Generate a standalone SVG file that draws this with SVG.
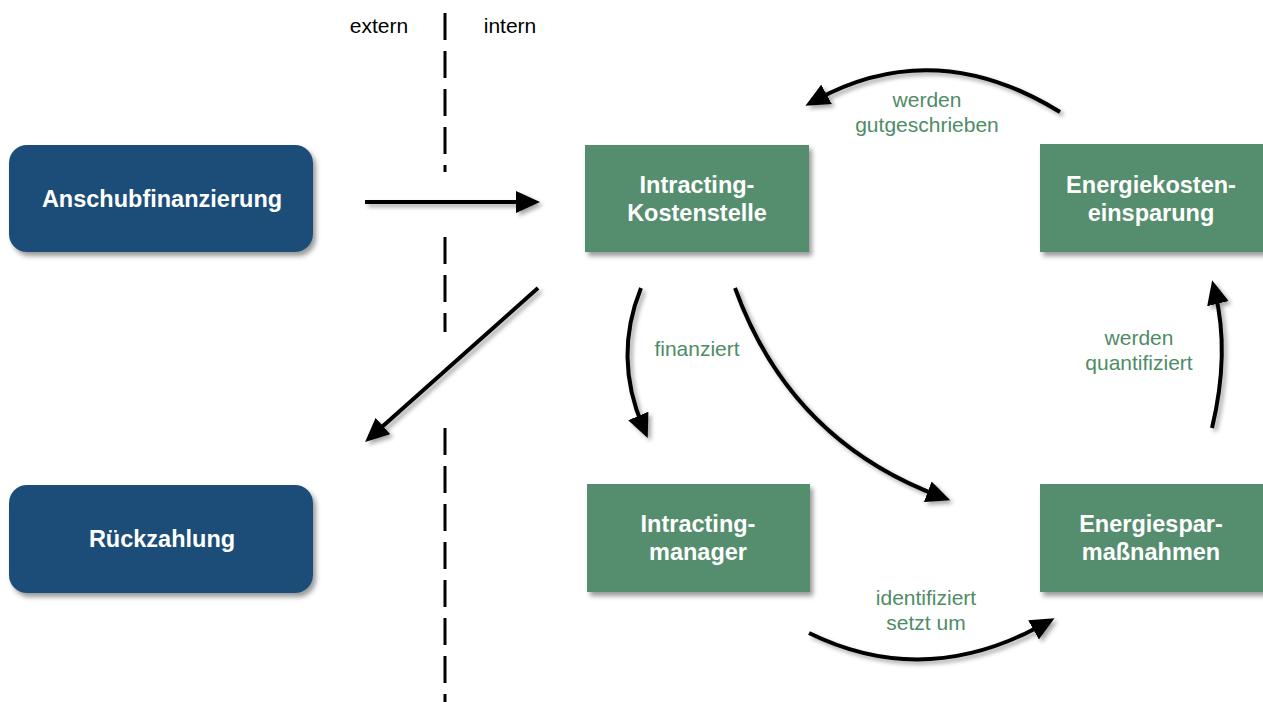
<svg xmlns="http://www.w3.org/2000/svg" width="1263" height="702" viewBox="0 0 1263 702">
<style>
.blue{fill:#1F4E79;}
.green{fill:#548E6E;}
.nt{font-family:"Liberation Sans",Arial,sans-serif;font-size:23.5px;font-weight:bold;fill:#FFFFFF;text-anchor:middle;}
.lbl{font-family:"Liberation Sans",Arial,sans-serif;font-size:21px;fill:#4E8C66;text-anchor:middle;}
.side{font-family:"Liberation Sans",Arial,sans-serif;font-size:21px;fill:#000000;text-anchor:middle;}
.conn{fill:none;stroke:#000000;stroke-width:4;marker-end:url(#ah);}
.divider{stroke:#000000;stroke-width:3;stroke-dasharray:27 11;fill:none;}
</style>
<defs>
<filter id="sh" x="-20%" y="-20%" width="150%" height="150%">
<feDropShadow dx="3" dy="4" stdDeviation="2.5" flood-color="#000000" flood-opacity="0.4"/>
</filter>
<filter id="ash" x="-20%" y="-20%" width="150%" height="150%">
<feDropShadow dx="3" dy="3" stdDeviation="2" flood-color="#000000" flood-opacity="0.35"/>
</filter>
<marker id="ah" markerUnits="userSpaceOnUse" markerWidth="24" markerHeight="22" refX="12" refY="11" orient="auto">
<path d="M0,0 L24,11 L0,22 z" fill="#000000"/>
</marker>
</defs>

<g id="divider">
<line class="divider" x1="445" y1="13" x2="445" y2="172"/>
<line class="divider" x1="445" y1="237" x2="445" y2="332"/>
<line class="divider" x1="445" y1="428" x2="445" y2="702"/>
<text class="side" x="379" y="33">extern</text>
<text class="side" x="510" y="33">intern</text>
</g>

<g id="connectors" filter="url(#ash)">
<path class="conn" d="M365,202 L528,202"/>
<path class="conn" d="M538,288 L374,434"/>
<path class="conn" d="M641,288 Q613,357 643,427"/>
<path class="conn" d="M735,288 Q790,440 939,496"/>
<path class="conn" d="M809,633 Q925,690 1044,624"/>
<path class="conn" d="M1212,428 Q1230,353 1215,292"/>
<path class="conn" d="M1060,112 Q935,35 816,100"/>
</g>

<g id="labels">
<text class="lbl" x="927" y="107">werden</text>
<text class="lbl" x="927" y="132">gutgeschrieben</text>
<text class="lbl" x="697" y="356">finanziert</text>
<text class="lbl" x="1139" y="345">werden</text>
<text class="lbl" x="1139" y="370">quantifiziert</text>
<text class="lbl" x="926" y="605">identifiziert</text>
<text class="lbl" x="926" y="630">setzt um</text>
</g>

<g id="anschubfinanzierung">
<rect class="blue" x="9" y="145" width="304" height="107" rx="18" filter="url(#sh)"/>
<text class="nt" x="162" y="207">Anschubfinanzierung</text>
</g>

<g id="rueckzahlung">
<rect class="blue" x="9" y="485" width="304" height="108" rx="18" filter="url(#sh)"/>
<text class="nt" x="162" y="547">Rückzahlung</text>
</g>

<g id="kostenstelle">
<rect class="green" x="585" y="145" width="224" height="107" filter="url(#sh)"/>
<text class="nt" x="697" y="193">Intracting-</text>
<text class="nt" x="697" y="221">Kostenstelle</text>
</g>

<g id="energiekosteneinsparung">
<rect class="green" x="1040" y="144" width="226" height="108" filter="url(#sh)"/>
<text class="nt" x="1151" y="193">Energiekosten-</text>
<text class="nt" x="1151" y="221">einsparung</text>
</g>

<g id="intractingmanager">
<rect class="green" x="587" y="484" width="223" height="108" filter="url(#sh)"/>
<text class="nt" x="698" y="532">Intracting-</text>
<text class="nt" x="698" y="560">manager</text>
</g>

<g id="energiesparmassnahmen">
<rect class="green" x="1040" y="484" width="226" height="108" filter="url(#sh)"/>
<text class="nt" x="1151" y="532">Energiespar-</text>
<text class="nt" x="1151" y="560">maßnahmen</text>
</g>
</svg>
